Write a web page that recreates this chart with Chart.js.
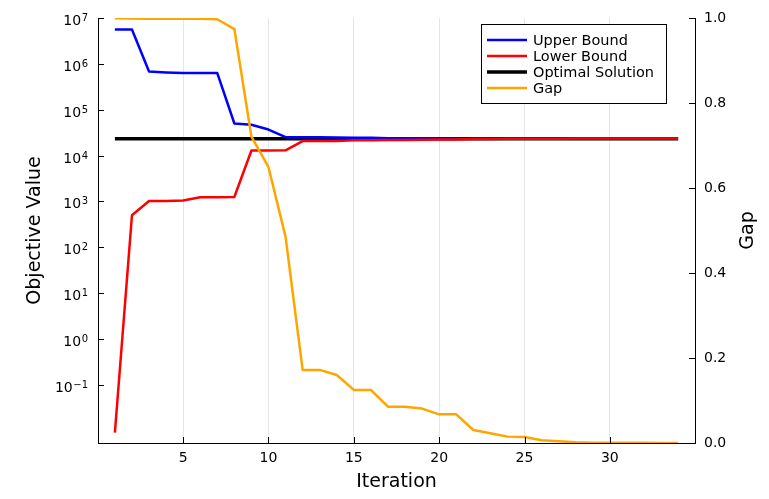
<!DOCTYPE html>
<html>
<head>
<meta charset="utf-8">
<script src="https://cdn.jsdelivr.net/npm/chart.js@4/dist/chart.umd.min.js"></script>
<style>
  html, body { margin: 0; padding: 0; background: #fff; }
  #wrap { width: 769px; height: 499px; }
</style>
</head>
<body>
<div id="wrap"><canvas id="chart"></canvas></div>
<script>
const iterations = [1, 2, 3, 4, 5, 6, 7, 8, 9, 10, 11, 12, 13, 14, 15, 16, 17,
    18, 19, 20, 21, 22, 23, 24, 25, 26, 27, 28, 29, 30, 31, 32, 33, 34];

const upperBound = [5.6e6, 5.6e6, 6.8e5, 6.5e5, 6.3e5, 6.3e5, 6.3e5, 5.0e4, 4.7e4, 3.7e4,
    2.52e4, 2.50e4, 2.50e4, 2.48e4, 2.46e4, 2.46e4, 2.40e4, 2.40e4, 2.40e4, 2.39e4,
    2.39e4, 2.37e4, 2.37e4, 2.36e4, 2.36e4, 2.35e4, 2.35e4, 2.35e4, 2.35e4, 2.35e4,
    2.35e4, 2.35e4, 2.35e4, 2.35e4];

const lowerBound = [0.0091, 500, 1020, 1020, 1050, 1230, 1230, 1250, 12900, 12900,
    13000, 20700, 20700, 20800, 21500, 21500, 21900, 21900, 22000, 22300,
    22300, 23000, 23100, 23200, 23200, 23350, 23400, 23450, 23480, 23490,
    23490, 23490, 23490, 23490];

const optimal = [23400, 23400, 23400, 23400, 23400, 23400, 23400, 23400, 23400, 23400,
    23400, 23400, 23400, 23400, 23400, 23400, 23400, 23400, 23400, 23400,
    23400, 23400, 23400, 23400, 23400, 23400, 23400, 23400, 23400, 23400,
    23400, 23400, 23400, 23400];

const gap = [0.9995, 0.999, 0.998, 0.998, 0.998, 0.998, 0.997, 0.974, 0.721, 0.649,
    0.485, 0.172, 0.172, 0.160, 0.125, 0.125, 0.0855, 0.0855, 0.081, 0.0675,
    0.0675, 0.0306, 0.023, 0.015, 0.014, 0.0063, 0.004, 0.0015, 0.0008, 0.0005,
    0.0004, 0.0003, 0.0002, 0.0001];

const xTicks = [5, 10, 15, 20, 25, 30];
const logTicks = [1e-1, 1e0, 1e1, 1e2, 1e3, 1e4, 1e5, 1e6, 1e7];
const gapTicks = [0, 0.2, 0.4, 0.6, 0.8, 1.0];

const FONT = 'DejaVu Sans';

const pts = ys => iterations.map((x, i) => ({ x: x, y: ys[i] }));

// inward ticks, 10^n labels with a real superscript, and the right title
const axisExtras = {
    id: 'axisExtras',
    afterDraw(chart) {
        const { ctx, chartArea: a, scales } = chart;
        ctx.save();
        ctx.strokeStyle = '#000';
        ctx.lineWidth = 1;
        ctx.beginPath();
        scales.x.ticks.forEach(t => {
            const px = Math.round(scales.x.getPixelForValue(t.value)) + 0.5;
            ctx.moveTo(px, a.bottom); ctx.lineTo(px, a.bottom - 6);
        });
        scales.y.ticks.forEach(t => {
            const py = Math.round(scales.y.getPixelForValue(t.value)) + 0.5;
            ctx.moveTo(a.left, py); ctx.lineTo(a.left + 6, py);
        });
        scales.y2.ticks.forEach(t => {
            const py = Math.round(scales.y2.getPixelForValue(t.value)) + 0.5;
            ctx.moveTo(a.right, py); ctx.lineTo(a.right - 6, py);
        });
        ctx.stroke();

        ctx.fillStyle = '#000';
        ctx.textBaseline = 'alphabetic';
        ctx.textAlign = 'left';
        scales.y.ticks.forEach(t => {
            const py = scales.y.getPixelForValue(t.value);
            const exp = String(Math.round(Math.log10(t.value))).replace('-', '\u2212');
            ctx.font = '10px "' + FONT + '"';
            const ew = ctx.measureText(exp).width;
            const right = a.left - 10;
            ctx.fillText(exp, right - ew, py + 3);
            ctx.font = '14px "' + FONT + '"';
            const bw = ctx.measureText('10').width;
            ctx.fillText('10', right - ew - bw - 0.5, py + 7);
        });

        ctx.font = '19px "' + FONT + '"';
        ctx.textAlign = 'center';
        ctx.textBaseline = 'middle';
        ctx.translate(748, (a.top + a.bottom) / 2);
        ctx.rotate(-Math.PI / 2);
        ctx.fillText('Gap', 0, 0);
        ctx.restore();
    }
};

const boxLegend = {
    id: 'boxLegend',
    afterDraw(chart) {
        const ctx = chart.ctx;
        const x0 = 481, y0 = 24, w = 185, h = 79;
        ctx.save();
        ctx.fillStyle = '#fff';
        ctx.fillRect(x0, y0, w, h);
        ctx.strokeStyle = '#000';
        ctx.lineWidth = 1;
        ctx.strokeRect(x0 + 0.5, y0 + 0.5, w, h);
        ctx.font = '14.5px "' + FONT + '"';
        ctx.textBaseline = 'middle';
        chart.data.datasets.forEach((ds, i) => {
            const y = y0 + 16 + i * 16;
            ctx.strokeStyle = ds.borderColor;
            ctx.lineWidth = ds.borderWidth;
            ctx.beginPath();
            ctx.moveTo(x0 + 6, y); ctx.lineTo(x0 + 46, y);
            ctx.stroke();
            ctx.fillStyle = '#000';
            ctx.fillText(ds.label, x0 + 52, y + 1);
        });
        ctx.restore();
    }
};

new Chart(document.getElementById('chart'), {
    type: 'line',
    data: {
        datasets: [
            { label: 'Upper Bound', data: pts(upperBound), borderColor: '#0000ff', borderWidth: 2.5, yAxisID: 'y', order: 2 },
            { label: 'Lower Bound', data: pts(lowerBound), borderColor: '#ff0000', borderWidth: 2.5, yAxisID: 'y', order: 1 },
            { label: 'Optimal Solution', data: pts(optimal), borderColor: '#000000', borderWidth: 3.5, yAxisID: 'y', order: 3 },
            { label: 'Gap', data: pts(gap), borderColor: '#ffa500', borderWidth: 2.5, yAxisID: 'y2', order: 0 }
        ]
    },
    options: {
        responsive: true,
        maintainAspectRatio: false,
        animation: false,
        layout: { padding: { top: 18, left: 0, right: 0, bottom: 0 } },
        elements: {
            point: { radius: 0 },
            line: { tension: 0, borderCapStyle: 'butt', borderJoinStyle: 'round' }
        },
        plugins: { legend: { display: false }, tooltip: { enabled: false } },
        scales: {
            x: {
                type: 'linear',
                min: 0.01,
                max: 34.99,
                afterBuildTicks: s => { s.ticks = xTicks.map(v => ({ value: v })); },
                afterFit: s => { s.height = 56; },
                grid: { display: true, color: '#e6e6e6', lineWidth: 1, drawTicks: false },
                border: { display: true, color: '#000', width: 1 },
                ticks: { color: '#000', font: { family: FONT, size: 14 }, padding: 7, maxRotation: 0 },
                title: { display: true, text: 'Iteration', color: '#000',
                    font: { family: FONT, size: 19 }, padding: { top: 0, bottom: 6 } }
            },
            y: {
                type: 'logarithmic',
                position: 'left',
                min: 0.0054,
                max: 1e7,
                afterBuildTicks: s => { s.ticks = logTicks.map(v => ({ value: v })); },
                afterFit: s => { s.width = 98; },
                grid: { display: false, drawTicks: false },
                border: { display: true, color: '#000', width: 1 },
                ticks: { display: false },
                title: { display: true, text: 'Objective Value', color: '#000',
                    font: { family: FONT, size: 19 }, padding: { top: 24, bottom: 0 } }
            },
            y2: {
                type: 'linear',
                position: 'right',
                min: 0,
                max: 1,
                afterBuildTicks: s => { s.ticks = gapTicks.map(v => ({ value: v })); },
                afterFit: s => { s.width = 74; },
                grid: { display: false, drawTicks: false },
                border: { display: true, color: '#000', width: 1 },
                ticks: { color: '#000', font: { family: FONT, size: 14 }, padding: 9,
                    callback: v => v.toFixed(1) },
                title: { display: false }
            }
        }
    },
    plugins: [axisExtras, boxLegend]
});
</script>
</body>
</html>
